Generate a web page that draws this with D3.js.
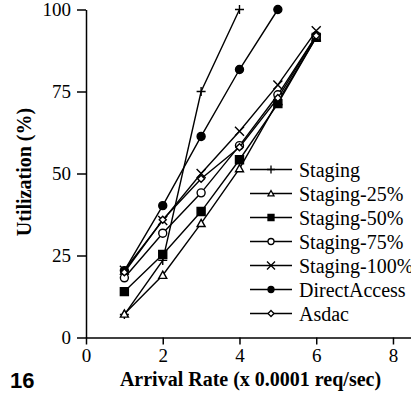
<!DOCTYPE html>
<html>
<head>
<meta charset="utf-8">
<script src="https://cdn.jsdelivr.net/npm/d3@7"></script>
<style>
  body { margin: 0; background: #fff; }
  svg { display: block; }
  .serif { font-family: "Liberation Serif", "Times New Roman", Times, "DejaVu Serif", serif; }
  .axis text { font-family: "Liberation Serif", "Times New Roman", Times, "DejaVu Serif", serif; font-size: 19px; fill: #000; }
  .axis path, .axis line { stroke: #000; stroke-width: 1.5; }
</style>
</head>
<body>
<div id="chart"></div>
<script>
// values
const rates = [1, 2, 3, 4, 5, 6];
const xTicks = [0, 2, 4, 6, 8];
const yTicks = [0, 25, 50, 75, 100];

const staging = [7, 23.5, 75, 100];
const staging25 = [7.2, 19, 34.8, 51.5, 72, 91.5];
const staging50 = [14, 25.3, 38.4, 54.2, 71.3, 91.5];
const staging75 = [18.2, 31.8, 44.1, 58.5, 74, 92];
const staging100 = [20.5, 35.7, 50, 62.9, 77, 93.5];
const directAccess = [20.4, 40.2, 61.3, 81.7, 100];
const asdac = [19.9, 35.9, 48.4, 58, 73, 92];

const seriesNames = ["Staging", "Staging-25%", "Staging-50%", "Staging-75%",
                     "Staging-100%", "DirectAccess", "Asdac"];
const seriesValues = [staging, staging25, staging50, staging75, staging100, directAccess, asdac];
const seriesMarks = ["plus", "triangle", "square", "circle", "cross", "dot", "diamond"];

const width = 411, height = 395;
const margin = { top: 9.5, right: 0, bottom: 57.5, left: 86 };

const svg = d3.select("#chart").append("svg")
    .attr("width", width)
    .attr("height", height);

// x runs a little past 8 and is cut at the right edge
const x = d3.scaleLinear().domain([0, 8.47]).range([margin.left, width]);
const y = d3.scaleLinear().domain([0, 100]).range([height - margin.bottom, margin.top]);

// marker drawing, s = half size
function markerPath(type, s) {
    switch (type) {
        case "plus": return `M${-s},0H${s}M0,${-s}V${s}`;
        case "cross": return `M${-s},${-s}L${s},${s}M${-s},${s}L${s},${-s}`;
        case "triangle": return `M0,${-s}L${s},${s * 0.8}L${-s},${s * 0.8}Z`;
        case "square": return `M${-s},${-s}H${s}V${s}H${-s}Z`;
        case "diamond": return `M0,${-s}L${s},0L0,${s}L${-s},0Z`;
        default: return d3.symbol(d3.symbolCircle, Math.PI * s * s)();
    }
}
function markerFill(type) {
    return (type === "square" || type === "dot") ? "#000" : "#fff";
}

// axes
const xAxis = svg.append("g")
    .attr("class", "axis")
    .attr("transform", `translate(0,${y(0)})`)
    .call(d3.axisBottom(x).tickValues(xTicks).tickSize(7).tickSizeOuter(0).tickPadding(4));

const yAxis = svg.append("g")
    .attr("class", "axis")
    .attr("transform", `translate(${x(0)},0)`)
    .call(d3.axisLeft(y).tickValues(yTicks).tickSize(9).tickSizeOuter(0).tickPadding(6));

xAxis.attr("font-family", null);
yAxis.attr("font-family", null);

// series
const line = d3.line()
    .x((d, i) => x(rates[i]))
    .y(d => y(d));

seriesValues.forEach((vals, k) => {
    const g = svg.append("g");
    g.append("path")
        .attr("d", line(vals))
        .attr("fill", "none")
        .attr("stroke", "#000")
        .attr("stroke-width", 1.4);
    const type = seriesMarks[k];
    const size = type === "diamond" ? 3.5 : (type === "plus" || type === "cross") ? 4.5 : 4;
    g.selectAll("path.mark")
        .data(vals)
        .enter()
        .append("path")
        .attr("class", "mark")
        .attr("transform", (d, i) => `translate(${x(rates[i])},${y(d)})`)
        .attr("d", markerPath(type, size))
        .attr("fill", markerFill(type))
        .attr("stroke", "#000")
        .attr("stroke-width", 1.4);
});

// legend
const legend = svg.append("g").attr("transform", "translate(250,169.5)");
seriesNames.forEach((name, k) => {
    const row = legend.append("g").attr("transform", `translate(0,${k * 24})`);
    row.append("line")
        .attr("x1", 0).attr("x2", 42)
        .attr("stroke", "#000").attr("stroke-width", 1.4);
    const type = seriesMarks[k];
    row.append("path")
        .attr("transform", "translate(21,0)")
        .attr("d", markerPath(type, type === "plus" || type === "cross" ? 4 : 3))
        .attr("fill", markerFill(type))
        .attr("stroke", "#000")
        .attr("stroke-width", 1.3);
    row.append("text")
        .attr("class", "serif")
        .attr("x", 49)
        .attr("dy", "0.35em")
        .style("font-size", "20px")
        .text(name);
});

// titles
svg.append("text")
    .attr("class", "serif")
    .attr("x", 250.5)
    .attr("y", 386)
    .attr("text-anchor", "middle")
    .style("font-weight", "bold")
    .style("font-size", "20px")
    .text("Arrival Rate (x 0.0001 req/sec)");

svg.append("text")
    .attr("class", "serif")
    .attr("transform", "translate(31,172) rotate(-90)")
    .attr("text-anchor", "middle")
    .style("font-weight", "bold")
    .style("font-size", "20px")
    .text("Utilization (%)");

svg.append("text")
    .attr("x", 10)
    .attr("y", 388)
    .style("font-family", "'Liberation Sans', Arial, sans-serif")
    .style("font-weight", "bold")
    .style("font-size", "22px")
    .text("16");
</script>
</body>
</html>
